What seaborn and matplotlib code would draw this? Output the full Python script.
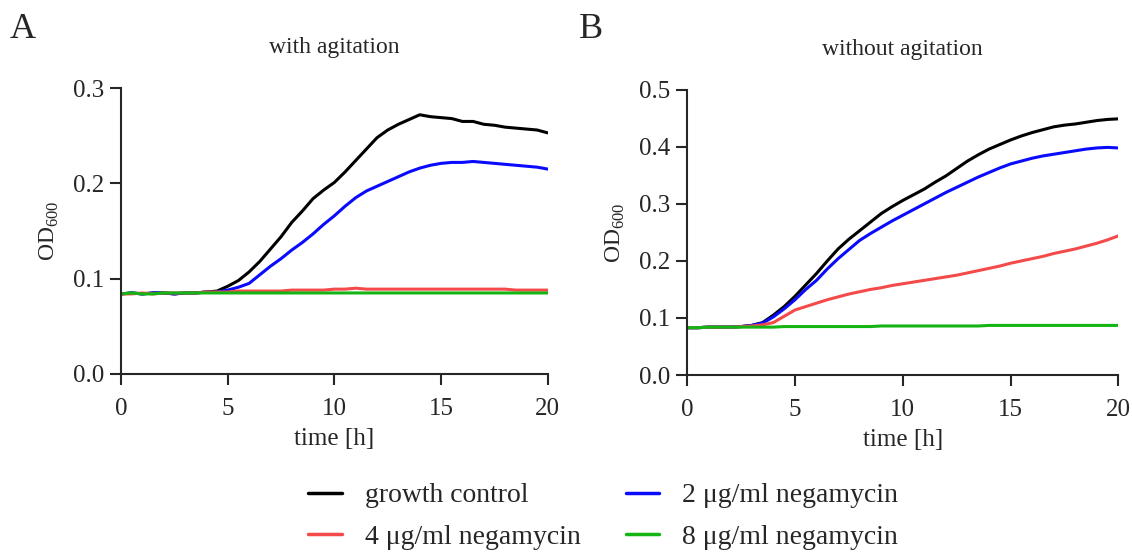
import numpy as np
import pandas as pd
import matplotlib
matplotlib.use('Agg')
import matplotlib.pyplot as plt
import seaborn as sns

# time axis, every 0.5 h
time_h = [i * 0.5 for i in range(41)]

# Panel A - with agitation
a_control = [0.084, 0.085, 0.084, 0.085, 0.085, 0.084, 0.085, 0.085, 0.086, 0.087,
             0.092, 0.098, 0.107, 0.118, 0.131, 0.144, 0.159, 0.171, 0.184, 0.193,
             0.201, 0.212, 0.224, 0.236, 0.248, 0.256, 0.262, 0.267, 0.272, 0.270,
             0.269, 0.268, 0.265, 0.265, 0.262, 0.261, 0.259, 0.258, 0.257, 0.256, 0.253]
a_2ug = [0.084, 0.085, 0.084, 0.085, 0.085, 0.084, 0.085, 0.085, 0.086, 0.086,
         0.088, 0.091, 0.095, 0.104, 0.113, 0.121, 0.130, 0.138, 0.147, 0.157,
         0.166, 0.176, 0.185, 0.192, 0.197, 0.202, 0.207, 0.212, 0.216, 0.219,
         0.221, 0.222, 0.222, 0.223, 0.222, 0.221, 0.220, 0.219, 0.218, 0.217, 0.215]
a_4ug = [0.084, 0.084, 0.085, 0.084, 0.085, 0.085, 0.085, 0.085, 0.086, 0.086,
         0.086, 0.087, 0.087, 0.087, 0.087, 0.087, 0.088, 0.088, 0.088, 0.088,
         0.089, 0.089, 0.090, 0.089, 0.089, 0.089, 0.089, 0.089, 0.089, 0.089,
         0.089, 0.089, 0.089, 0.089, 0.089, 0.089, 0.089, 0.088, 0.088, 0.088, 0.088]
a_8ug = [0.084, 0.085, 0.084, 0.084, 0.085, 0.085, 0.085, 0.085, 0.085, 0.085,
         0.085, 0.085, 0.085, 0.085, 0.085, 0.085, 0.085, 0.085, 0.085, 0.085,
         0.085, 0.085, 0.085, 0.085, 0.085, 0.085, 0.085, 0.085, 0.085, 0.085,
         0.085, 0.085, 0.085, 0.085, 0.085, 0.085, 0.085, 0.085, 0.085, 0.085, 0.085]

# Panel B - without agitation
b_control = [0.083, 0.083, 0.084, 0.084, 0.084, 0.085, 0.087, 0.092, 0.105, 0.120,
             0.138, 0.158, 0.178, 0.200, 0.221, 0.238, 0.253, 0.268, 0.283, 0.295,
             0.306, 0.316, 0.326, 0.338, 0.349, 0.362, 0.375, 0.386, 0.396, 0.404,
             0.412, 0.419, 0.425, 0.430, 0.435, 0.438, 0.440, 0.443, 0.446, 0.448, 0.449]
b_2ug = [0.083, 0.083, 0.084, 0.084, 0.084, 0.085, 0.087, 0.091, 0.102, 0.116,
         0.132, 0.150, 0.166, 0.186, 0.204, 0.220, 0.236, 0.248, 0.259, 0.270,
         0.280, 0.290, 0.300, 0.310, 0.320, 0.329, 0.338, 0.347, 0.355, 0.363,
         0.370, 0.375, 0.380, 0.384, 0.387, 0.390, 0.393, 0.396, 0.398, 0.399, 0.398]
b_4ug = [0.083, 0.083, 0.084, 0.084, 0.084, 0.085, 0.086, 0.088, 0.092, 0.103,
         0.114, 0.120, 0.126, 0.132, 0.137, 0.142, 0.146, 0.150, 0.153, 0.157,
         0.160, 0.163, 0.166, 0.169, 0.172, 0.175, 0.179, 0.183, 0.187, 0.191,
         0.196, 0.200, 0.204, 0.208, 0.213, 0.217, 0.221, 0.226, 0.231, 0.237, 0.244]
b_8ug = [0.083, 0.083, 0.084, 0.084, 0.084, 0.084, 0.084, 0.084, 0.084, 0.085,
         0.085, 0.085, 0.085, 0.085, 0.085, 0.085, 0.085, 0.085, 0.086, 0.086,
         0.086, 0.086, 0.086, 0.086, 0.086, 0.086, 0.086, 0.086, 0.087, 0.087,
         0.087, 0.087, 0.087, 0.087, 0.087, 0.087, 0.087, 0.087, 0.087, 0.087, 0.087]

conditions = ['growth control', '2 \u03bcg/ml negamycin', '4 \u03bcg/ml negamycin', '8 \u03bcg/ml negamycin']
colors = ['#000000', '#0a0aff', '#f44a4a', '#14b414']


def make_df(series):
    rows = []
    for cond, vals in zip(conditions, series):
        for t, v in zip(time_h, vals):
            rows.append({'time': t, 'OD': v, 'condition': cond})
    return pd.DataFrame(rows)


df_a = make_df([a_control, a_2ug, a_4ug, a_8ug])
df_b = make_df([b_control, b_2ug, b_4ug, b_8ug])

sns.set_style('ticks')
plt.rcParams['font.family'] = ['Liberation Serif', 'DejaVu Serif']
plt.rcParams['mathtext.fontset'] = 'custom'
plt.rcParams['mathtext.rm'] = 'Liberation Serif'

fig = plt.figure(figsize=(11.32, 5.54), dpi=100)
ax_a = fig.add_axes([0.1069, 0.325, 0.377, 0.516])
ax_b = fig.add_axes([0.607, 0.323, 0.381, 0.515])

pal = dict(zip(conditions, colors))

for ax, df, ymax, title in [(ax_a, df_a, 0.3, 'with agitation'),
                            (ax_b, df_b, 0.5, 'without agitation')]:
    sns.lineplot(data=df, x='time', y='OD', hue='condition', hue_order=conditions,
                 palette=pal, linewidth=2.2, ax=ax, legend=False)
    ax.set_xlim(0, 20)
    ax.set_ylim(0, ymax)
    ax.set_xticks([0, 5, 10, 15, 20])
    yt = np.arange(0, ymax + 0.001, 0.1)
    ax.set_yticks(yt)
    ax.set_yticklabels([f'{v:.1f}' for v in yt])
    ax.tick_params(labelsize=18, width=1.5, length=8, direction='out')
    ax.tick_params(axis='x', pad=9)
    ax.tick_params(axis='y', pad=4)
    for s in ['left', 'bottom']:
        ax.spines[s].set_linewidth(1.5)
    sns.despine(ax=ax)
    ax.set_xlabel('time [h]', fontsize=18, labelpad=6)
    ax.set_ylabel(r'OD$_{\mathregular{600}}$', fontsize=17, labelpad=9)
    ax.set_title(title, fontsize=17, pad=25)

# panel letters
fig.text(10 / 1132, 1 - 13 / 554, 'A', fontsize=26, ha='left', va='top')
fig.text(579 / 1132, 1 - 13 / 554, 'B', fontsize=26, ha='left', va='top')

handles = [plt.Line2D([], [], color=pal[c], lw=2.5) for c in conditions]
# ncol=2 fills column-wise: growth / 4 ug in col 1, 2 ug / 8 ug in col 2
h_order = [0, 2, 1, 3]
fig.legend([handles[i] for i in h_order], [conditions[i] for i in h_order],
           loc='lower center', bbox_to_anchor=(0.533, -0.038), ncol=2, frameon=False,
           fontsize=20, columnspacing=1.6, handlelength=1.2, handletextpad=0.85,
           labelspacing=0.58)

fig.savefig('out.png', dpi=100)
